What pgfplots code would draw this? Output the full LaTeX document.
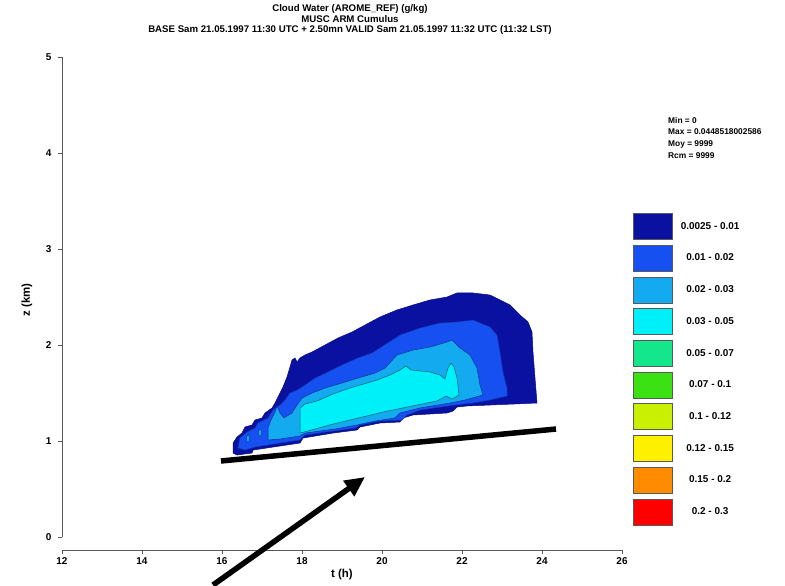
\documentclass[border=0pt]{standalone}
\usepackage{pgfplots}
\pgfplotsset{compat=1.18}
\usepackage{fontspec}
\setmainfont{Liberation Sans}
\usetikzlibrary{arrows.meta}
\definecolor{c1}{RGB}{10,16,160}
\definecolor{c2}{RGB}{22,80,240}
\definecolor{c3}{RGB}{20,170,240}
\definecolor{c4}{RGB}{0,240,250}
\definecolor{c5}{RGB}{20,230,140}
\definecolor{c6}{RGB}{60,225,20}
\definecolor{c7}{RGB}{200,240,0}
\definecolor{c8}{RGB}{255,240,0}
\definecolor{c9}{RGB}{255,140,0}
\definecolor{c10}{RGB}{255,0,0}
\begin{document}
\begin{tikzpicture}
\begin{axis}[
  scale only axis, width=560bp, height=480bp,
  xmin=12, xmax=26, ymin=0, ymax=5,
  axis x line=bottom, axis y line=left,
  axis x line shift=13bp,
  axis line style={-, draw=black!65, line width=0.8bp},
  xtick={12,14,...,26}, ytick={0,1,...,5},
  tick align=outside, major tick length=4bp,
  tick style={black!65, line width=0.8bp},
  ticklabel style={font=\fontsize{10}{11}\selectfont\bfseries},
  yticklabel style={xshift=-3bp},
  /pgf/number format/assume math mode=true,
  xlabel={t (h)}, ylabel={z (km)},
  label style={font=\fontsize{11.5}{12}\selectfont\bfseries},
  xlabel style={at={(axis description cs:0.5,-0.079)}, anchor=center},
  ylabel style={at={(axis description cs:-0.0625,0.494)}, anchor=center},
  clip=false,
  legend style={draw=none, fill=none, at={(axis cs:26.275,3.375)}, anchor=north west,
    inner sep=0pt, row sep=5.1bp, font=\fontsize{10}{11}\selectfont\bfseries,
    /tikz/every odd column/.append style={column sep=6bp}},
  legend cell align=center,
  legend image code/.code={\path[#1,draw=black!65,line width=0.6bp] (0bp,-13bp) rectangle (39bp,13bp);},
]
\coordinate (bbSW) at (axis cs:10.45,-0.5);
\coordinate (bbNE) at (axis cs:30.075,5.594);
% outer 0.0025-0.01
\addplot[fill=c1, draw=c1!80!black, line width=0.5bp] coordinates {
(16.275,0.875) (16.275,0.979) (16.375,1.042) (16.5,1.083) (16.575,1.146) (16.75,1.167)
(16.825,1.219) (17.0,1.240) (17.075,1.292) (17.25,1.344) (17.325,1.396) (17.4,1.458)
(17.525,1.5625) (17.625,1.667) (17.7,1.771) (17.75,1.844) (17.825,1.865) (17.875,1.823)
(17.95,1.865) (18.075,1.896) (18.25,1.927) (18.575,2.0) (18.9,2.073) (19.25,2.135)
(19.575,2.208) (19.95,2.292) (20.375,2.365) (20.775,2.417) (21.2,2.469) (21.625,2.5)
(21.875,2.542) (22.275,2.542) (22.7,2.521) (22.95,2.469) (23.2,2.417) (23.45,2.3125)
(23.65,2.240) (23.75,2.135) (23.775,1.927) (23.825,1.656) (23.875,1.396) (23.275,1.385)
(22.7,1.375) (22.125,1.365) (21.875,1.354) (21.775,1.3125) (21.625,1.292) (20.775,1.271)
(20.525,1.240) (20.45,1.198) (19.95,1.1875) (19.45,1.146) (19.375,1.115) (18.775,1.083)
(18.025,1.031) (17.95,0.979) (17.45,0.948) (16.775,0.906) (16.75,0.875) (16.375,0.854)
} -- cycle;
\addlegendentry{0.0025 - 0.01}
% 0.01-0.02
\addplot[fill=c2, draw=c2!70!black, line width=0.5bp] coordinates {
(16.4,0.927) (16.45,1.031) (16.625,1.094) (16.825,1.135) (16.9,1.1875) (17.15,1.240)
(17.275,1.323) (17.45,1.375) (17.575,1.427) (17.7,1.5) (17.875,1.531) (18.075,1.583)
(18.325,1.656) (18.65,1.719) (19.0,1.792) (19.4,1.865) (19.75,1.917) (20.025,1.990)
(20.45,2.104) (20.95,2.177) (21.45,2.229) (21.875,2.240) (22.275,2.260) (22.7,2.1875)
(22.875,2.104) (22.95,1.927) (23.025,1.719) (23.125,1.552) (23.125,1.469) (22.7,1.427)
(22.275,1.396) (21.825,1.375) (20.95,1.323) (20.625,1.271) (20.5,1.219) (19.95,1.208)
(19.45,1.167) (19.325,1.135) (18.775,1.104) (18.075,1.0625) (17.95,1.010) (17.45,0.979)
(16.825,0.9375) (16.575,0.906)
} -- cycle;
\addlegendentry{0.01 - 0.02}
% 0.02-0.03
\addplot[fill=c3, draw=c2!60!black, line width=0.5bp] coordinates {
(17.15,1.010) (17.15,1.135) (17.225,1.219) (17.325,1.302) (17.375,1.365) (17.45,1.292)
(17.55,1.240) (17.75,1.292) (17.875,1.375) (18.0,1.448) (18.25,1.5) (18.575,1.552)
(19.0,1.604) (19.4,1.656) (19.825,1.708) (20.075,1.760) (20.375,1.896) (20.775,1.948)
(21.2,1.979) (21.625,2.031) (21.75,2.052) (21.95,1.969) (22.2,1.896) (22.375,1.760)
(22.45,1.583) (22.525,1.479) (22.075,1.427) (21.7,1.396) (20.95,1.344) (20.45,1.292)
(20.325,1.240) (19.825,1.208) (19.375,1.167) (18.825,1.125) (18.075,1.083) (17.95,1.052)
(17.45,1.021)
} -- cycle;
\addlegendentry{0.02 - 0.03}
% 0.03-0.05
\addplot[fill=c4, draw=teal!80!black, line width=0.5bp] coordinates {
(17.95,1.083) (17.95,1.344) (18.075,1.385) (18.375,1.417) (18.775,1.490) (19.2,1.552)
(19.625,1.604) (19.875,1.635) (20.2,1.6875) (20.45,1.740) (20.6,1.781) (20.725,1.740)
(21.2,1.719) (21.45,1.6875) (21.575,1.646) (21.65,1.760) (21.725,1.8125) (21.8,1.771)
(21.875,1.656) (21.925,1.479) (21.75,1.4375) (21.6,1.469) (21.375,1.417) (20.875,1.375)
(20.025,1.302) (19.2,1.219) (18.775,1.177) (18.325,1.125)
} -- cycle;
\addlegendentry{0.03 - 0.05}
% small light-blue cells in the tail
\addplot[fill=c3, draw=c2!60!black, line width=0.4bp, forget plot] coordinates {
(16.62,1.0) (16.68,1.0) (16.69,1.04) (16.65,1.07) (16.61,1.04)} -- cycle;
\addplot[fill=c3, draw=c2!60!black, line width=0.4bp, forget plot] coordinates {
(16.92,1.06) (16.98,1.06) (16.99,1.10) (16.95,1.13) (16.91,1.10)} -- cycle;
\addlegendimage{fill=c5}\addlegendentry{0.05 - 0.07}
\addlegendimage{fill=c6}\addlegendentry{0.07 - 0.1}
\addlegendimage{fill=c7}\addlegendentry{0.1 - 0.12}
\addlegendimage{fill=c8}\addlegendentry{0.12 - 0.15}
\addlegendimage{fill=c9}\addlegendentry{0.15 - 0.2}
\addlegendimage{fill=c10}\addlegendentry{0.2 - 0.3}
% thick line and arrow
\addplot[black, line width=5.5bp, forget plot] coordinates {(15.975,0.792) (24.35,1.125)};
\addplot[black, line width=5.5bp, forget plot, -{Triangle[length=20bp,width=18bp]}]
  coordinates {(15.775,-0.5) (19.575,0.625)};
% title and statistics
\node[anchor=north, align=center, inner sep=0pt,
  font=\fontsize{9.7}{10.8}\selectfont\bfseries] at (axis cs:19.2,5.55)
  {Cloud Water (AROME\_REF) (g/kg)\\MUSC ARM Cumulus\\BASE Sam 21.05.1997 11:30 UTC + 2.50mn VALID Sam 21.05.1997 11:32 UTC (11:32 LST)};
\node[anchor=north west, align=left, inner sep=0pt,
  font=\fontsize{8.4}{11.7}\selectfont\bfseries] at (axis cs:27.15,4.375)
  {Min = 0\\Max = 0.0448518002586\\Moy = 9999\\Rcm = 9999};
\end{axis}
\pgfresetboundingbox
\path (bbSW) rectangle (bbNE);
\end{tikzpicture}
\end{document}
